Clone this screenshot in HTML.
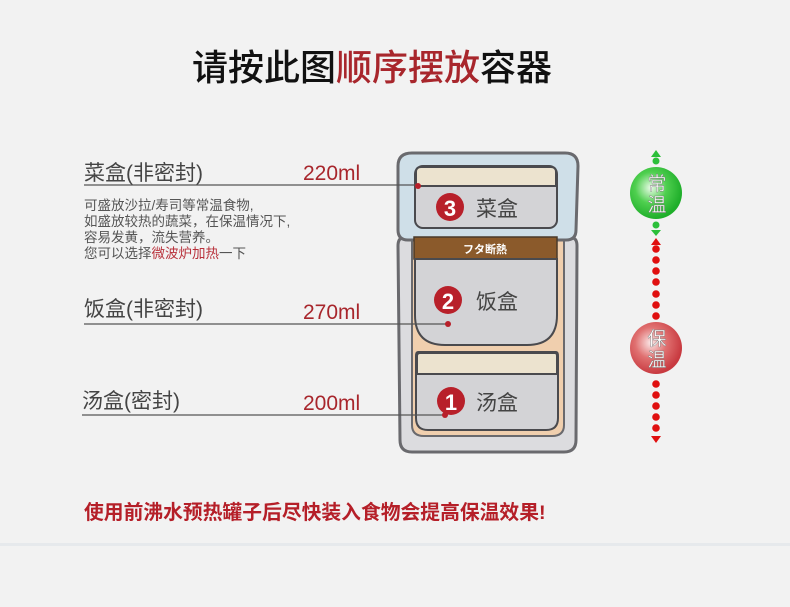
<!DOCTYPE html>
<html><head><meta charset="utf-8"><style>
html,body{margin:0;padding:0;background:#f2f2f2;}
svg{display:block;}
text{font-family:"Liberation Sans","Noto Sans CJK SC",sans-serif;}
</style></head><body>
<svg width="790" height="607" viewBox="0 0 790 607" xmlns="http://www.w3.org/2000/svg">
<defs>
<radialGradient id="g" cx="0.4" cy="0.4" r="0.6"><stop offset="0" stop-color="#eafbe8"/><stop offset="0.5" stop-color="#4fcf4f"/><stop offset="1" stop-color="#1fae2a"/></radialGradient>
<radialGradient id="r" cx="0.4" cy="0.4" r="0.6"><stop offset="0" stop-color="#fbe8e8"/><stop offset="0.5" stop-color="#e07070"/><stop offset="1" stop-color="#c83a40"/></radialGradient>
</defs>
<rect width="790" height="607" fill="#f2f2f2"/>
<rect x="0" y="543" width="790" height="3" fill="#e6e9ec"/>
<text x="192" y="80" font-size="36" font-weight="500" fill="#111" font-family="'Noto Sans CJK SC',sans-serif">请按此图<tspan fill="#a8262c">顺序摆放</tspan>容器</text>

<!-- container -->
<path d="M403 238 Q398 238 398 246 L400 440 Q400 452 412 452 L564 452 Q576 452 576 440 L577 246 Q577 238 572 238 Z" fill="#dcdcdf" stroke="#6a6a6e" stroke-width="3"/>
<path d="M412 238 L412 425 Q412 436 424 436 L552 436 Q564 436 564 425 L564 238 Z" fill="#f0cfae" stroke="#6a6a6e" stroke-width="2"/>
<path d="M412 153 L565 153 Q578 153 578 166 L576 230 Q576 240 566 240 L408 240 Q398 240 398 230 L398 166 Q398 153 412 153 Z" fill="#cfdfe8" stroke="#6a6a6e" stroke-width="3"/>
<rect x="415" y="166" width="142" height="62" rx="8" fill="#d3d3d6" stroke="#4a4a4e" stroke-width="2"/>
<path d="M416 186 L416 172 Q416 167 421 167 L551 167 Q556 167 556 172 L556 186 Z" fill="#ece3cf" stroke="#4a4a4e" stroke-width="2"/>
<rect x="414" y="237" width="143" height="22" fill="#8b5a2b" stroke="#4a3a2a" stroke-width="1.5"/>
<text x="485" y="253" font-size="11" font-weight="bold" fill="#fff" text-anchor="middle">フタ断熱</text>
<path d="M415 259 L557 259 L557 315 Q557 345 527 345 L445 345 Q415 345 415 315 Z" fill="#d3d3d6" stroke="#4a4a4e" stroke-width="2"/>
<path d="M418 352 L556 352 Q558 352 558 356 L558 418 Q558 430 546 430 L428 430 Q416 430 416 418 L416 356 Q416 352 418 352 Z" fill="#d3d3d6" stroke="#4a4a4e" stroke-width="2"/>
<path d="M417 374 L417 356 Q417 353 420 353 L555 353 Q557 353 557 356 L557 374 Z" fill="#ece3cf" stroke="#4a4a4e" stroke-width="2"/>
<circle cx="450" cy="207" r="14" fill="#b8202a"/><text x="450" y="216" font-size="22" font-weight="bold" fill="#fff" text-anchor="middle">3</text>
<circle cx="448" cy="300" r="14" fill="#b8202a"/><text x="448" y="309" font-size="22" font-weight="bold" fill="#fff" text-anchor="middle">2</text>
<circle cx="451" cy="401" r="14" fill="#b8202a"/><text x="451" y="410" font-size="22" font-weight="bold" fill="#fff" text-anchor="middle">1</text>
<text x="476" y="216" font-size="21" fill="#444">菜盒</text>
<text x="476" y="309" font-size="21" fill="#444">饭盒</text>
<text x="476" y="410" font-size="21" fill="#444">汤盒</text>

<g fill="#444" font-size="21">
<text x="84" y="180">菜盒(非密封)</text>
<text x="84" y="316">饭盒(非密封)</text>
<text x="82" y="408">汤盒(密封)</text>
</g>
<g fill="#a8262c" font-size="21">
<text x="303" y="180">220ml</text>
<text x="303" y="319">270ml</text>
<text x="303" y="410">200ml</text>
</g>
<g stroke="#555" stroke-width="1.3">
<line x1="84" y1="185" x2="418" y2="185"/>
<line x1="84" y1="324" x2="448" y2="324"/>
<line x1="82" y1="415" x2="445" y2="415"/>
</g>
<g fill="#b8202a"><circle cx="418" cy="186" r="3"/><circle cx="448" cy="324" r="3"/><circle cx="445" cy="415" r="3"/></g>
<g font-size="13.5" fill="#555">
<text x="84" y="210">可盛放沙拉/寿司等常温食物,</text>
<text x="84" y="226">如盛放较热的蔬菜，在保温情况下,</text>
<text x="84" y="242">容易发黄，流失营养。</text>
<text x="84" y="258">您可以选择<tspan fill="#b8303a">微波炉加热</tspan>一下</text>
</g>

<polygon points="656,150 651,157 661,157" fill="#2cbf3a"/>
<circle cx="656" cy="161" r="3.5" fill="#2cbf3a"/>
<circle cx="656" cy="193" r="26" fill="url(#g)"/>
<circle cx="656" cy="225" r="3.5" fill="#2cbf3a"/>
<polygon points="656,236 651,230 661,230" fill="#2cbf3a"/>
<polygon points="656,238 651,245 661,245" fill="#e01010"/>
<g fill="#e01010">
<circle cx="656" cy="249" r="3.8"/><circle cx="656" cy="260" r="3.8"/><circle cx="656" cy="271" r="3.8"/><circle cx="656" cy="282" r="3.8"/><circle cx="656" cy="294" r="3.8"/><circle cx="656" cy="305" r="3.8"/><circle cx="656" cy="316" r="3.8"/>
<circle cx="656" cy="384" r="3.8"/><circle cx="656" cy="395" r="3.8"/><circle cx="656" cy="406" r="3.8"/><circle cx="656" cy="417" r="3.8"/><circle cx="656" cy="428" r="3.8"/>
</g>
<polygon points="656,443 651,436 661,436" fill="#e01010"/>
<circle cx="656" cy="348" r="26" fill="url(#r)"/>
<g font-size="19" fill="#fff" text-anchor="middle" stroke="#777" stroke-width="0.4">
<text x="657" y="190">常</text><text x="657" y="211">温</text>
<text x="657" y="345">保</text><text x="657" y="366">温</text>
</g>

<text x="84" y="519" font-size="19.8" font-weight="bold" fill="#b51f28" font-family="'Noto Sans CJK SC',sans-serif">使用前沸水预热罐子后尽快装入食物会提高保温效果!</text>
</svg>
</body></html>
